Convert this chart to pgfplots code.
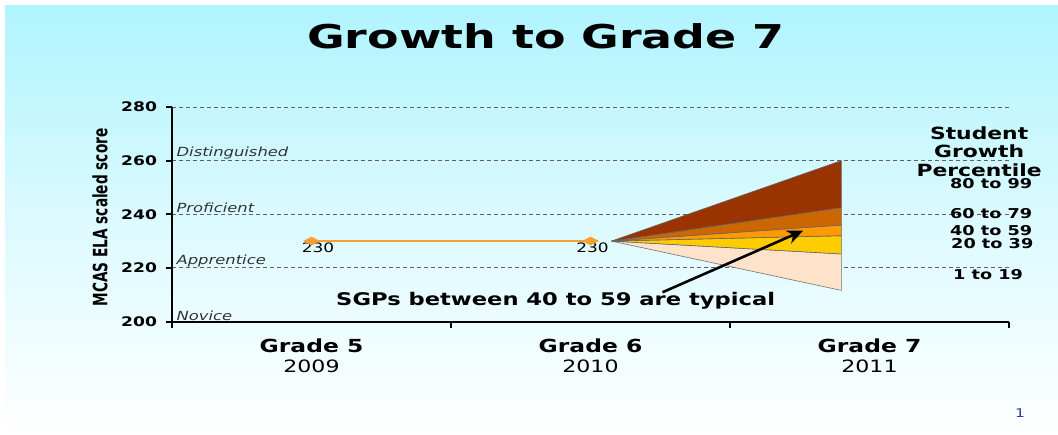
\documentclass[border=0pt]{standalone}
\usepackage{pgfplots}
\pgfplotsset{compat=1.18}
\usepackage{fontspec}
\usetikzlibrary{arrows.meta}
\setmainfont{DejaVu Sans}[FakeStretch=1.3]
\newfontfamily\condfont{DejaVu Sans Condensed}
\definecolor{bgtop}{HTML}{B0F4FE}
\definecolor{sgpA}{HTML}{993300}
\definecolor{sgpB}{HTML}{CC6600}
\definecolor{sgpC}{HTML}{FF9900}
\definecolor{sgpD}{HTML}{FFCC00}
\definecolor{sgpE}{HTML}{FFE2CA}
\definecolor{lineor}{HTML}{F7A030}
\definecolor{gridc}{HTML}{606060}
\begin{document}
\begin{tikzpicture}
% background (1px = 0.5pt, axis origin at pixel (172,321.5))
\fill[white] (-86pt,-56.25pt) rectangle (443pt,160.75pt);
\shade[top color=bgtop, bottom color=white, middle color=bgtop!45] (-83.5pt,-56.25pt) rectangle (443pt,157.75pt);
\begin{axis}[
  scale only axis,
  width=418.5pt, height=107.25pt,
  xmin=-0.5, xmax=2.5, ymin=200, ymax=280,
  clip=false,
  axis lines=left,
  axis line style={-, black, line width=1pt},
  ytick={200,220,240,260,280},
  ymajorgrids,
  grid style={gridc, line width=0.5pt, dash pattern=on 2pt off 1.5pt},
  xtick={-0.5,0.5,1.5,2.5},
  xticklabels={},
  extra x ticks={0,1,2},
  extra x tick style={grid=none, major tick length=0pt},
  tick align=outside,
  major tick length=3pt,
  tick style={black, line width=1pt},
  /pgf/number format/assume math mode=true,
  yticklabel style={font=\fontsize{6.6}{7}\bfseries, xshift=-1pt},
  extra x tick labels={{Grade 5\\[1pt]{\mdseries\fontsize{8.5}{9}\selectfont 2009}},
               {Grade 6\\[1pt]{\mdseries\fontsize{8.5}{9}\selectfont 2010}},
               {Grade 7\\[1pt]{\mdseries\fontsize{8.5}{9}\selectfont 2011}}},
  xticklabel style={font=\fontsize{9}{9}\bfseries, yshift=-5pt, align=center},
]
% fan of growth percentiles
\addplot[fill=sgpE, draw=black!55, line width=0.3pt] coordinates {(1.075,230) (1.899,225.2) (1.899,211.6)} -- cycle;
\addplot[fill=sgpD, draw=black!60, line width=0.3pt] coordinates {(1.075,230) (1.899,232) (1.899,225.2)} -- cycle;
\addplot[fill=sgpC, draw=black!60, line width=0.3pt] coordinates {(1.075,230) (1.899,236) (1.899,232)} -- cycle;
\addplot[fill=sgpB, draw=black!60, line width=0.3pt] coordinates {(1.075,230) (1.899,242.5) (1.899,236)} -- cycle;
\addplot[fill=sgpA, draw=black!60, line width=0.3pt] coordinates {(1.075,230) (1.899,260) (1.899,242.5)} -- cycle;
% scores
\addplot[lineor, line width=1pt, mark=diamond*, mark size=2.2pt, mark options={fill=lineor, draw=lineor, xscale=1.9, yscale=0.75}] coordinates {(0,230) (1,230)};
\node[font=\fontsize{6.5}{7}\selectfont] at (axis cs:0.023,227.6) {230};
\node[font=\fontsize{6.5}{7}\selectfont] at (axis cs:1.007,227.6) {230};
% level labels
\node[anchor=south west, inner sep=0pt, font=\fontsize{6.3}{7}\itshape, text=black!80] at (axis cs:-0.485,260.3) {Distinguished};
\node[anchor=south west, inner sep=0pt, font=\fontsize{6.3}{7}\itshape, text=black!80] at (axis cs:-0.485,240.3) {Proficient};
\node[anchor=south west, inner sep=0pt, font=\fontsize{6.3}{7}\itshape, text=black!80] at (axis cs:-0.485,220.3) {Apprentice};
\node[anchor=south west, inner sep=0pt, font=\fontsize{6.3}{7}\itshape, text=black!80] at (axis cs:-0.485,200.3) {Novice};
% arrow & annotation
\draw[black, line width=1.3pt, -{Stealth[length=8pt, width=7pt]}] (axis cs:1.258,210.9) -- (axis cs:1.762,233.9);
\node[font=\fontsize{8.7}{9}\bfseries] at (axis cs:0.875,207.6) {SGPs between 40 to 59 are typical};
% right legend text
\node[font=\fontsize{8.4}{9}\bfseries] at (axis cs:2.393,270.3) {Student};
\node[font=\fontsize{8.4}{9}\bfseries] at (axis cs:2.393,263.6) {Growth};
\node[font=\fontsize{8.4}{9}\bfseries] at (axis cs:2.393,256.5) {Percentile};
\node[font=\fontsize{6.8}{7}\bfseries] at (axis cs:2.436,251.3) {80 to 99};
\node[font=\fontsize{6.8}{7}\bfseries] at (axis cs:2.436,240.1) {60 to 79};
\node[font=\fontsize{6.8}{7}\bfseries] at (axis cs:2.436,234.1) {40 to 59};
\node[font=\fontsize{6.8}{7}\bfseries] at (axis cs:2.44,228.9) {20 to 39};
\node[font=\fontsize{6.8}{7}\bfseries] at (axis cs:2.425,217.4) {1 to 19};
\end{axis}
% x axis line stub to the left of the y axis
\draw[black, line width=1pt] (-2.5pt,0) -- (0,0);
% title
\node at (187pt,142.75pt) {\scalebox{1.077}[1]{\fontsize{16.4}{17}\bfseries Growth to Grade 7}};
% y label
\node at (-36pt,52pt) {\scalebox{1.3}[1]{\rotatebox{90}{\condfont\bfseries\fontsize{7.6}{8}\selectfont MCAS ELA scaled score}}};
% page number
\node[font=\fontsize{6}{6}\selectfont, text={rgb,255:red,40;green,60;blue,170}] at (424pt,-45.75pt) {1};
\end{tikzpicture}
\end{document}
